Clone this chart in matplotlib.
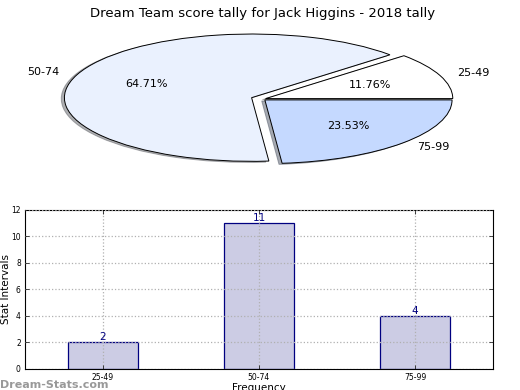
import numpy as np
import matplotlib
matplotlib.use("Agg")
from matplotlib import pyplot as plt

# data
intervals = ["25-49", "50-74", "75-99"]
counts = [2, 11, 4]
pie_colors = ["#ffffff", "#eaf1fe", "#c5d9ff"]
explode = [0.02, 0.06, 0.02]

title = "Dream Team score tally for Jack Higgins - 2018 tally"

fig = plt.figure(figsize=(5.2, 3.9), dpi=100)

# pie (squashed, aspect not equal)
ax1 = fig.add_axes([0.054, 0.542, 0.9, 0.408])
wedges, texts, autotexts = ax1.pie(counts, labels=intervals, colors=pie_colors,
                                   explode=explode, autopct="%1.2f%%",
                                   shadow=dict(ox=-0.012, oy=-0.012, shade=0.6),
                                   startangle=0,
                                   wedgeprops=dict(edgecolor="black", linewidth=0.7),
                                   textprops=dict(fontsize=8))
ax1.set_aspect("auto")
ax1.set_title(title, fontsize=9.5, pad=2)

# bars
ax2 = fig.add_axes([0.048, 0.054, 0.9, 0.408])
x = np.arange(len(intervals))
ax2.bar(x, counts, width=0.45, color="#ccccE4", edgecolor="#000080", linewidth=0.9)
for xi, c in zip(x, counts):
    ax2.text(xi, c, str(c), ha="center", va="bottom", color="#000080", fontsize=7.5)
ax2.set_xlim(-0.5, 2.5)
ax2.set_ylim(0, 12)
ax2.set_yticks(np.arange(0, 13, 2))
ax2.set_xticks(x)
ax2.set_xticklabels(intervals)
ax2.tick_params(labelsize=5.5, direction="in", top=True, right=True, length=3, width=0.5, pad=3)
ax2.grid(True, linestyle=":", color="#b0b0b0", linewidth=0.9)
ax2.set_axisbelow(False)
ax2.set_ylabel("Stat Intervals", fontsize=7.5, labelpad=0)
ax2.set_xlabel("Frequency", fontsize=7.5, labelpad=1)

fig.text(0.0, 0.005, "Dream-Stats.com", color="#999999", fontsize=8, fontweight="bold")

fig.savefig("out.png", dpi=100)
